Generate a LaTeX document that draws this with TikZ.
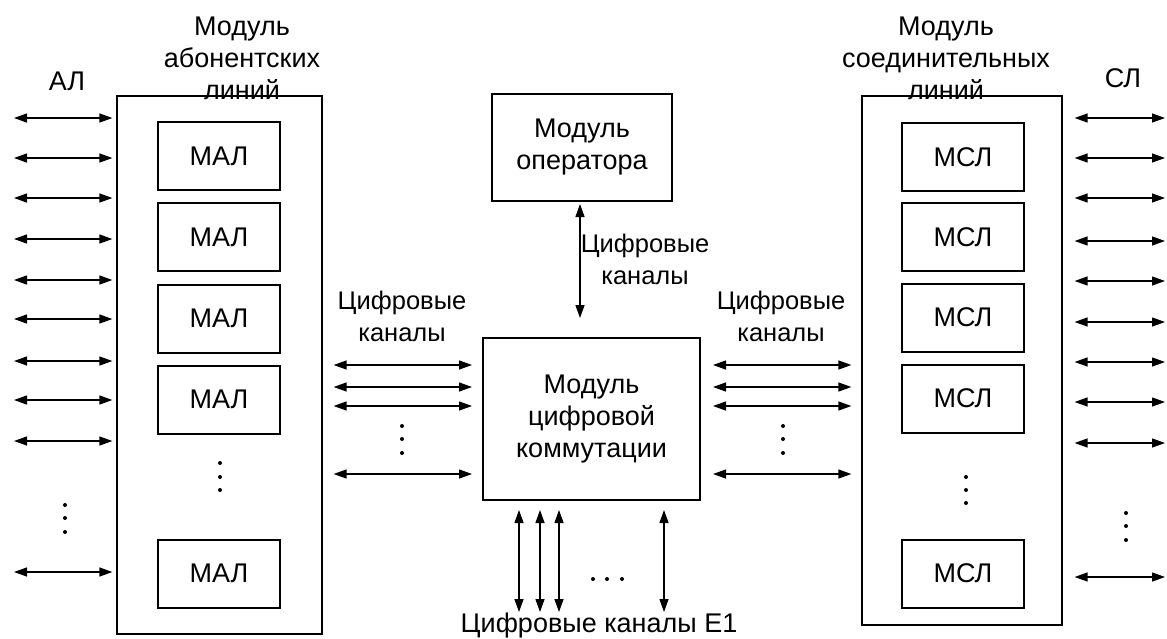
\documentclass[tikz,border=0pt]{standalone}
\usepackage{fontspec}
\setmainfont{Liberation Sans}
\usetikzlibrary{arrows.meta}
\tikzstyle{outer}=[draw,rectangle,line width=1.2pt]
\tikzstyle{unit}=[draw,rectangle,line width=2pt,minimum width=122pt,minimum height=68pt]
\tikzstyle{block}=[draw,rectangle,line width=2pt,align=center]
\tikzstyle{title}=[align=center]
\tikzstyle{chlabel}=[align=center,font=\fontsize{25.5}{32}\selectfont]
\tikzstyle{link}=[<->,>={Triangle[length=13pt,width=9pt]},line width=1.3pt]

\begin{document}
\begin{tikzpicture}[x=1pt,y=-1pt,font=\fontsize{27}{32}\selectfont]
\useasboundingbox (0,0) rectangle (1167,638);

\node[outer,minimum width=205pt,minimum height=538pt] (mal) at (219.5,365) {};
\node[outer,minimum width=200pt,minimum height=529pt] (msl) at (962,360.5) {};

\node[title] (maltitle) at (242,58) {Модуль\\абонентских\\линий};
\node[title] (msltitle) at (946,58) {Модуль\\соединительных\\линий};
\node (al) at (67,81) {АЛ};
\node (sl) at (1123,78) {СЛ};

\node[unit] (mal1) at (219,156) {МАЛ};
\node[unit] (mal2) at (219,237) {МАЛ};
\node[unit] (mal3) at (219,318.5) {МАЛ};
\node[unit] (mal4) at (219,399.5) {МАЛ};
\node[unit] (mal5) at (219,573.5) {МАЛ};

\node[unit] (msl1) at (963,157) {МСЛ};
\node[unit] (msl2) at (963,237) {МСЛ};
\node[unit] (msl3) at (963,317.5) {МСЛ};
\node[unit] (msl4) at (963,398.5) {МСЛ};
\node[unit] (msl5) at (963,573.5) {МСЛ};

\node[block,minimum width=180pt,minimum height=107pt] (op) at (582,147.5) {Модуль\\оператора};
\node[block,minimum width=217pt,minimum height=162pt] (sw) at (591.5,419) {Модуль\\цифровой\\коммутации};

\node[chlabel] (oplabel) at (645,259) {Цифровые\\каналы};
\node[chlabel] (chleft) at (402,316) {Цифровые\\каналы};
\node[chlabel] (chright) at (781,316) {Цифровые\\каналы};
\node (e1label) at (599,626) {Цифровые каналы E1};

% subscriber and trunk lines
\foreach \y [count=\i] in {118,158,198,239,280,319,361,400,441,572} {
  \coordinate (al\i) at (14,\y);
  \draw[link,shorten >=4pt] (al\i) -- (al\i -| mal.west);
}
\foreach \y [count=\i] in {118,158,198,241,281,322,362,402,443,577} {
  \coordinate (sl\i) at (1165,\y);
  \draw[link,shorten <=12pt] (sl\i -| msl.east) -- (sl\i);
}

% digital channels
\foreach \y [count=\i] in {365,387,406,474} {
  \coordinate (ch\i) at (0,\y);
  \draw[link,shorten <=11pt,shorten >=10pt] (ch\i -| mal.east) -- (ch\i -| sw.west);
  \draw[link,shorten <=12pt,shorten >=10pt] (ch\i -| sw.east) -- (ch\i -| msl.west);
}
\foreach \x [count=\i] in {519,540,559,664} {
  \coordinate (e1\i) at (\x,612);
  \draw[link,shorten <=9pt] (e1\i |- sw.south) -- (e1\i);
}
\coordinate (opch) at (580,0);
\draw[link,shorten <=2pt,shorten >=19pt] (opch |- op.south) -- (opch |- sw.north);

% dots
\foreach \y in {505,518,532} \fill (65,\y) circle (2pt);
\foreach \y in {463,477,490} \fill (220,\y) circle (2pt);
\foreach \y in {426,439,453} \fill (402,\y) circle (2pt);
\foreach \y in {426,439,453} \fill (783,\y) circle (2pt);
\foreach \y in {477,490,503} \fill (966,\y) circle (2pt);
\foreach \y in {513,526,540} \fill (1126,\y) circle (2pt);
\foreach \x in {593,607,622} \fill (\x,579) circle (2pt);
\end{tikzpicture}
\end{document}
